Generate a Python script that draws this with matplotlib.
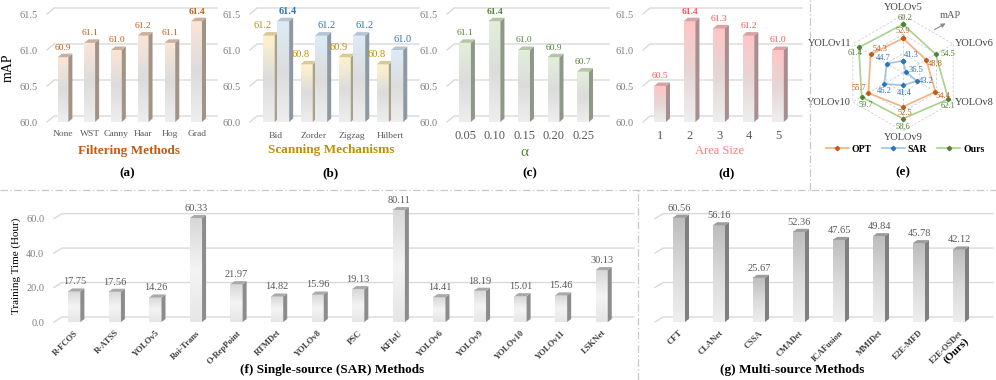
import numpy as np
import matplotlib
matplotlib.use('Agg')
import matplotlib.pyplot as plt
from matplotlib.colors import LinearSegmentedColormap
from matplotlib.patches import Polygon

plt.rcParams['font.family'] = ['Liberation Serif', 'DejaVu Serif']

# ---- data ----
filter_methods = ['None', 'WST', 'Canny', 'Haar', 'Hog', 'Grad']
filter_map = [60.9, 61.1, 61.0, 61.2, 61.1, 61.4]

scan_methods = ['Bid', 'Zorder', 'Zigzag', 'Hilbert']
scan_yellow = [61.2, 60.8, 60.9, 60.8]
scan_blue = [61.4, 61.2, 61.2, 61.0]

alpha_labels = ['0.05', '0.10', '0.15', '0.20', '0.25']
alpha_map = [61.1, 61.4, 61.0, 60.9, 60.7]

area_labels = ['1', '2', '3', '4', '5']
area_map = [60.5, 61.4, 61.3, 61.2, 61.0]

radar_models = ['YOLOv5', 'YOLOv6', 'YOLOv8', 'YOLOv9', 'YOLOv10', 'YOLOv11']
radar_opt = [52.9, 48.8, 54.4, 52.5, 55.7, 54.3]
radar_sar = [41.3, 36.5, 43.2, 41.4, 46.2, 44.7]
radar_ours = [60.2, 54.5, 62.1, 58.6, 59.7, 61.4]

single_methods = ['R-FCOS', 'R-ATSS', 'YOLOv5', 'Roi-Trans', 'O-RepPoint', 'RTMDet', 'YOLOv8',
                  'PSC', 'KFIoU', 'YOLOv6', 'YOLOv9', 'YOLOv10', 'YOLOv11', 'LSKNet']
single_hours = [17.75, 17.56, 14.26, 60.33, 21.97, 14.82, 15.96, 19.13, 80.11, 14.41, 18.19,
                15.01, 15.46, 30.13]

multi_methods = ['CFT', 'CLANet', 'CSSA', 'CMADet', 'ICAFusion', 'MMIDet', 'E2E-MFD', 'E2E-OSDet']
multi_hours = [60.56, 56.16, 25.67, 52.36, 47.65, 49.84, 45.78, 42.12]

W, H = 996, 380
fig = plt.figure(figsize=(W / 100, H / 100), dpi=100)


def add_ax(l, t, r, b, **kw):
    return fig.add_axes([l / W, 1 - b / H, (r - l) / W, (b - t) / H], **kw)


def setup_3d(ax, box, xlim, ylim, ticks, wall=(7, 6), labels=True, ls=7.5):
    wpx, hpx = box[2] - box[0], box[3] - box[1]
    ux = (xlim[1] - xlim[0]) / wpx
    uy = (ylim[1] - ylim[0]) / hpx
    for t in ticks:
        ax.plot([xlim[0], xlim[0] + wall[0] * ux, xlim[1] + wall[0] * ux],
                [t, t + wall[1] * uy, t + wall[1] * uy],
                color='#d9d9d9', lw=1, zorder=0, clip_on=False)
    for s in ax.spines.values():
        s.set_visible(False)
    ax.patch.set_visible(False)
    ax.set_yticks(ticks)
    ax.set_yticklabels(['%.1f' % t for t in ticks] if labels else [])
    ax.tick_params(axis='y', length=0, pad=7, labelsize=ls, labelcolor='#7f7f7f')
    ax.tick_params(axis='x', length=0)
    return ux, uy


def bar3d(ax, x, h, width, base, ux, uy, grad, side, top, depth=(4, 3.5)):
    dx, dy = depth[0] * ux, depth[1] * uy
    cmap = LinearSegmentedColormap.from_list('g', grad)
    for xi, hi in zip(x, h):
        x0, x1 = xi - width / 2, xi + width / 2
        ax.imshow(np.linspace(1, 0, 64).reshape(-1, 1), cmap=cmap, vmin=0, vmax=1,
                  extent=(x0, x1, base, hi), aspect='auto', interpolation='bilinear', zorder=2)
        ax.add_patch(Polygon([(x1, base), (x1 + dx, base + dy), (x1 + dx, hi + dy), (x1, hi)],
                             closed=True, fc=side, ec='none', zorder=2, clip_on=False))
        ax.add_patch(Polygon([(x0, hi), (x0 + dx, hi + dy), (x1 + dx, hi + dy), (x1, hi)],
                             closed=True, fc=top, ec='none', zorder=2, clip_on=False))
    return dx, dy


def values(ax, x, h, dy, color, fs, bold_idx=None, shift=0, fmt='%.1f', shown=None):
    for i, (xi, hi) in enumerate(zip(x, h)):
        v = shown[i] if shown is not None else hi
        ax.annotate(fmt % v, (xi, hi + dy), xytext=(shift, 2), textcoords='offset pixels',
                    ha='center', va='bottom', fontsize=fs, color=color,
                    fontweight='bold' if i == bold_idx else 'normal', annotation_clip=False)


top_ticks = [60.0, 60.5, 61.0, 61.5]
top_lim = (60.0, 61.5)

# ---- (a) filtering methods ----
box = (47, 14, 210, 122)
ax = add_ax(*box)
xl = (-0.6, 5.5)
ux, uy = setup_3d(ax, box, xl, top_lim, top_ticks)
x = np.arange(len(filter_methods))
dx, dy = bar3d(ax, x, filter_map, 0.4, 60.0, ux, uy,
               ['#eeeeee', '#dcdcdc', '#fbe5d6'], '#a39386', '#c9b09c')
values(ax, x, filter_map, dy, '#c55a11', 6.8, bold_idx=5)
ax.set_xticks(x)
ax.set_xticklabels(filter_methods, fontsize=6.8, color='#595959')
ax.tick_params(axis='x', pad=6)
ax.set_xlim(xl); ax.set_ylim(top_lim)
ax.set_xlabel('Filtering Methods', fontsize=9.5, fontweight='bold', color='#c55a11', labelpad=5)
ax.set_ylabel('mAP', fontsize=10, labelpad=3)

# ---- (b) scanning mechanisms ----
box = (250, 14, 412, 122)
ax = add_ax(*box)
xl = (-0.68, 3.58)
ux, uy = setup_3d(ax, box, xl, top_lim, top_ticks)
x = np.arange(len(scan_methods))
dx, dy = bar3d(ax, x - 0.19, scan_yellow, 0.32, 60.0, ux, uy,
               ['#eeeeee', '#dcdcdc', '#fff2cc'], '#a8a288', '#d8c99a')
bar3d(ax, x + 0.19, scan_blue, 0.32, 60.0, ux, uy,
      ['#eeeeee', '#dcdcdc', '#ddebf7'], '#8f99a4', '#b4c4d4')
values(ax, x - 0.19, scan_yellow, dy, '#bf9000', 7.5, shift=-6)
values(ax, x + 0.19, scan_blue, dy, '#2e75b6', 7.5, bold_idx=0, shift=5)
ax.set_xticks(x)
ax.set_xticklabels(scan_methods, fontsize=6.8, color='#595959')
ax.tick_params(axis='x', pad=7)
ax.set_xlim(xl); ax.set_ylim(top_lim)
ax.set_xlabel('Scanning Mechanisms', fontsize=9.5, fontweight='bold', color='#bf9000', labelpad=3)

# ---- (c) alpha ----
box = (447, 14, 602, 122)
ax = add_ax(*box)
xl = (-0.61, 4.64)
ux, uy = setup_3d(ax, box, xl, top_lim, top_ticks)
x = np.arange(len(alpha_labels))
dx, dy = bar3d(ax, x, alpha_map, 0.4, 60.0, ux, uy,
               ['#eeeeee', '#dcdcdc', '#e2efda'], '#8d9887', '#b5c6a8')
values(ax, x, alpha_map, dy, '#548235', 6.8, bold_idx=1)
ax.set_xticks(x)
ax.set_xticklabels(alpha_labels, fontsize=9, color='#595959')
ax.tick_params(axis='x', pad=6)
ax.set_xlim(xl); ax.set_ylim(top_lim)
ax.set_xlabel('α', fontsize=11, color='#548235', labelpad=3)

# ---- (d) area size ----
box = (643, 14, 795, 122)
ax = add_ax(*box)
xl = (-0.58, 4.58)
ux, uy = setup_3d(ax, box, xl, top_lim, top_ticks)
x = np.arange(len(area_labels))
dx, dy = bar3d(ax, x, area_map, 0.4, 60.0, ux, uy,
               ['#eeeeee', '#e6d6d6', '#ffc5c5'], '#a88e8e', '#d9a3a3')
values(ax, x, area_map, dy, '#ff5050', 6.8, bold_idx=1)
ax.set_xticks(x)
ax.set_xticklabels(area_labels, fontsize=9, color='#595959')
ax.tick_params(axis='x', pad=6)
ax.set_xlim(xl); ax.set_ylim(top_lim)
ax.set_xlabel('Area Size', fontsize=9, color='#ff7c80', labelpad=2)

# ---- (e) radar ----
axr = add_ax(845, 15, 961, 131, projection='polar')
ang = np.arange(len(radar_models)) * 2 * np.pi / len(radar_models)
angc = np.append(ang, ang[0])
axr.set_theta_offset(np.pi / 2)
axr.set_theta_direction(-1)
axr.set_ylim(35, 65)
axr.grid(False)
axr.spines['polar'].set_visible(False)
axr.set_xticks([]); axr.set_yticks([])
axr.patch.set_visible(False)
for r in [45, 55, 65]:
    axr.plot(angc, [r] * len(angc), color='#cfcfcf', lw=0.6, ls=(0, (3, 2)), zorder=0)
for a in ang:
    axr.plot([a, a], [35, 65], color='#cfcfcf', lw=0.6, ls=(0, (3, 2)), zorder=0)

series = [
    ('OPT', radar_opt, '#f4b183', '#c55a11',
     [(0, 7), (9, -4), (8, -4), (2, -6), (-9, 5), (9, 5)]),
    ('SAR', radar_sar, '#9dc3e6', '#2e75b6',
     [(8, 6), (11, 2), (9, 0), (1, -8), (0, -7), (-4, 6)]),
    ('Ours', radar_ours, '#a9d18e', '#548235',
     [(2, 6), (12, 0), (0, -7), (0, -8), (4, -8), (-4, -6)]),
]
for name, vals, lc, mc, offs in series:
    vc = np.append(vals, vals[0])
    axr.plot(angc, vc, color=lc, lw=1.2, marker='D', ms=2.2, mfc=mc, mec=mc, label=name,
             clip_on=False, zorder=3)
    for a, v, (ox, oy) in zip(ang, vals, offs):
        axr.annotate('%.1f' % v, (a, v), xytext=(ox, oy), textcoords='offset pixels',
                     ha='center', va='center', fontsize=6, color=mc, annotation_clip=False,
                     zorder=4)

lab_pos = [(68.8, 'center', 'center'), (66, 'left', 'center'), (66, 'left', 'center'),
           (68.2, 'center', 'center'), (66, 'right', 'center'), (66, 'right', 'center')]
for a, name, (r, ha, va) in zip(ang, radar_models, lab_pos):
    axr.text(a, r, name, ha=ha, va=va, fontsize=7.5, color='#404040', clip_on=False)

axr.annotate('', xy=(948, H - 22), xytext=(932, H - 31), xycoords='figure pixels',
             textcoords='figure pixels',
             arrowprops=dict(arrowstyle='-|>', color='#8c8c8c', lw=0.8, mutation_scale=6))
fig.text(950 / W, 1 - 16 / H, 'mAP', fontsize=7.5, color='#595959', ha='center', va='center')

leg = axr.legend(loc='center', bbox_to_anchor=(905 / W, 1 - 149 / H),
                 bbox_transform=fig.transFigure, ncol=3, frameon=False, handlelength=2.4,
                 columnspacing=1.0, handletextpad=0.3, borderpad=0.1,
                 prop={'weight': 'bold', 'size': 7})

# ---- (f) single-source ----
bot_ticks = [0.0, 20.0, 40.0, 60.0]
bot_lim = (0, 65)
box = (54, 210, 626, 322)
ax = add_ax(*box)
xl = (-0.5, 13.6)
ux, uy = setup_3d(ax, box, xl, bot_lim, bot_ticks, wall=(8, 5))
x = np.arange(len(single_methods))
drawn = np.minimum(single_hours, bot_lim[1])
dx, dy = bar3d(ax, x, drawn, 0.3, 0, ux, uy,
               ['#e6e6e6', '#f4f4f4', '#d8d8d8'], '#8c8c8c', '#a9a9a9', depth=(4, 3))
values(ax, x, drawn, dy, '#595959', 7.5, fmt='%.2f', shown=single_hours)
ax.set_xticks(x)
ax.set_xticklabels(single_methods, fontsize=6.2, fontweight='bold', color='#404040',
                   rotation=45, ha='right', rotation_mode='anchor')
ax.tick_params(axis='x', pad=5)
ax.set_xlim(xl); ax.set_ylim(bot_lim)
ax.set_ylabel('Training Time (Hour)', fontsize=8, labelpad=4)

# ---- (g) multi-source ----
box = (655, 210, 985, 322)
ax = add_ax(*box)
xl = (-0.6, 7.65)
ux, uy = setup_3d(ax, box, xl, bot_lim, bot_ticks, wall=(8, 5), labels=False)
x = np.arange(len(multi_methods))
dx, dy = bar3d(ax, x, multi_hours, 0.3, 0, ux, uy,
               ['#eeeeee', '#dadada', '#bdbdbd'], '#7f7f7f', '#9c9c9c', depth=(4, 3))
values(ax, x, multi_hours, dy, '#595959', 7.5, fmt='%.2f')
ax.set_xticks(x)
ax.set_xticklabels(multi_methods, fontsize=6.2, fontweight='bold', color='#404040',
                   rotation=45, ha='right', rotation_mode='anchor')
ax.tick_params(axis='x', pad=5)
ax.set_xlim(xl); ax.set_ylim(bot_lim)
ax.annotate('(Ours)', (x[-1], 0), xytext=(5, -14), textcoords='offset pixels', rotation=45,
            ha='right', va='top', rotation_mode='anchor', fontsize=8, fontweight='bold',
            annotation_clip=False)

# ---- captions ----
caps = [('(a)', 127, 173), ('(b)', 330, 173), ('(c)', 530, 173), ('(d)', 727, 173),
        ('(e)', 903, 172), ('(f) Single-source (SAR) Methods', 332, 370),
        ('(g) Multi-source Methods', 792, 370)]
for t, cx, cy in caps:
    fig.text(cx / W, 1 - cy / H, t, fontsize=9.5, fontweight='bold', ha='center', va='center')

# ---- separators ----
sep = dict(color='#c8c8c8', lw=0.9, ls=(0, (6, 2, 1, 2)), transform=fig.transFigure)
fig.add_artist(plt.Line2D([810 / W, 810 / W], [1 - 190 / H, 1.0], **sep))
fig.add_artist(plt.Line2D([0, 1], [1 - 190 / H, 1 - 190 / H], **sep))
fig.add_artist(plt.Line2D([638 / W, 638 / W], [0, 1 - 190 / H], **sep))

fig.savefig('out.png', dpi=100)
